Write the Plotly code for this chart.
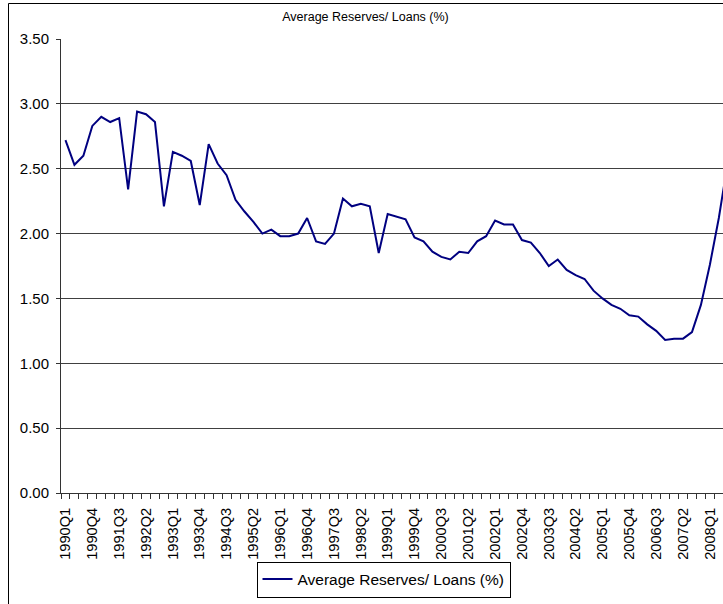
import plotly.graph_objects as go

# Quarterly periods, 1990Q1 through 2008Q3
quarters = [f"{y}Q{q}" for y in range(1990, 2009) for q in range(1, 5)][:75]

# Average reserves as a share of loans (%)
reserves_to_loans = [
    2.72, 2.53, 2.60, 2.83, 2.90, 2.86, 2.89, 2.34, 2.94, 2.92,
    2.86, 2.21, 2.63, 2.60, 2.56, 2.22, 2.69, 2.54, 2.45, 2.26,
    2.17, 2.09, 2.00, 2.03, 1.98, 1.98, 2.00, 2.12, 1.94, 1.92,
    2.00, 2.27, 2.21, 2.23, 2.21, 1.85, 2.15, 2.13, 2.11, 1.97,
    1.94, 1.86, 1.82, 1.80, 1.86, 1.85, 1.94, 1.98, 2.10, 2.07,
    2.07, 1.95, 1.93, 1.85, 1.75, 1.80, 1.72, 1.68, 1.65, 1.56,
    1.50, 1.45, 1.42, 1.37, 1.36, 1.30, 1.25, 1.18, 1.19, 1.19,
    1.24, 1.45, 1.76, 2.12, 2.55,
]

series_name = "Average Reserves/ Loans (%)"
y_ticks = [0.0, 0.5, 1.0, 1.5, 2.0, 2.5, 3.0, 3.5]

idx = list(range(len(quarters)))
label_idx = idx[::3]
label_text = quarters[::3]

FONT = "Liberation Sans, Arial, sans-serif"

fig = go.Figure()
fig.add_trace(go.Scatter(
    x=idx,
    y=reserves_to_loans,
    mode="lines",
    name=series_name,
    line=dict(color="#000080", width=2),
))

L, T, W, H = 61, 39, 662, 454  # plot area in pixels


def px_x(p):
    return (p - L) / W


def px_y(p):
    return (T + H - p) / H


fig.update_layout(
    width=723,
    height=604,
    autosize=False,
    margin=dict(l=L, r=723 - L - W, t=T, b=604 - T - H),
    paper_bgcolor="white",
    plot_bgcolor="white",
    font=dict(family=FONT, color="black", size=15),
    title=dict(
        text=series_name,
        font=dict(size=12.5, family=FONT, color="black"),
        x=365.5 / 723, xanchor="center", xref="container",
        y=1 - 17 / 604, yanchor="middle", yref="container",
    ),
    showlegend=True,
    legend=dict(
        orientation="h",
        x=px_x(383.5), xanchor="center",
        y=px_y(579.5), yanchor="middle",
        bordercolor="black", borderwidth=1,
        bgcolor="white",
        font=dict(size=15.5, family=FONT),
        itemwidth=30,
    ),
    xaxis=dict(
        range=[-0.5, -0.5 + W / 8.95],
        tickmode="array",
        tickvals=label_idx,
        ticktext=label_text,
        tickangle=-90,
        ticks="",
        ticklabelstandoff=8,
        showgrid=False,
        zeroline=False,
        showline=True,
        linecolor="#333333",
        linewidth=1,
        tickfont=dict(size=14.6),
        minor=dict(
            tickmode="array",
            tickvals=[i - 0.5 for i in range(len(quarters) + 1)],
            ticks="outside",
            ticklen=5,
            tickcolor="#333333",
            showgrid=False,
        ),
    ),
    yaxis=dict(
        range=[0, 3.5],
        tickmode="array",
        tickvals=y_ticks,
        ticktext=[f"{v:.2f}" for v in y_ticks],
        ticks="outside",
        ticklen=4,
        tickcolor="#333333",
        ticklabelstandoff=4,
        showgrid=True,
        gridcolor="#404040",
        gridwidth=1,
        zeroline=False,
        showline=True,
        linecolor="#333333",
        linewidth=1,
        tickfont=dict(size=15),
    ),
    shapes=[
        dict(
            type="rect", xref="paper", yref="paper",
            x0=px_x(8.5), x1=px_x(740), y0=px_y(620), y1=px_y(3.5),
            line=dict(color="black", width=1),
            fillcolor="rgba(0,0,0,0)",
            layer="below",
        )
    ],
)

fig.write_html("out.html")
